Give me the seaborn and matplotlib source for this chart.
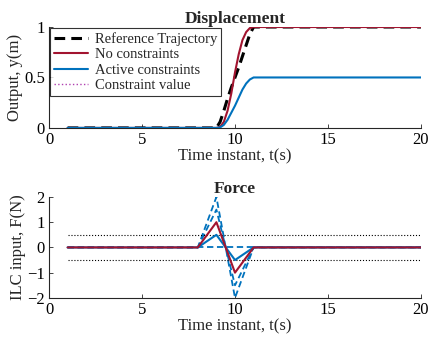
import numpy as np
import pandas as pd
import matplotlib
matplotlib.use("Agg")
import matplotlib.pyplot as plt
import seaborn as sns

# Displacement (output) curves
t_disp = [1, 9, 9.2, 9.4, 9.6, 9.8, 10, 10.2, 10.4, 10.6, 10.8, 11, 20]
y_ref = [0, 0, 0.06, 0.17, 0.29, 0.40, 0.50, 0.60, 0.71, 0.82, 0.93, 1.0, 1.0]
y_free = [0, 0, 0.01, 0.06, 0.17, 0.34, 0.55, 0.73, 0.87, 0.95, 0.99, 1.0, 1.0]
y_con = [0, 0, 0.005, 0.03, 0.08, 0.15, 0.22, 0.30, 0.38, 0.44, 0.48, 0.50, 0.50]

# Force (ILC input) per time instant
t_force = list(range(1, 21))
u_free = [0] * 8 + [1, -1] + [0] * 10
u_con = [0] * 8 + [0.5, -0.5] + [0] * 10
u_iters = [
    [0] * 20,
    [0] * 8 + [1.5, -1.5] + [0] * 10,
    [0] * 8 + [2.0, -2.0] + [0] * 10,
]
limit = 0.5

red = "#A2142F"
blue = "#0072BD"

sns.set_style("ticks")
plt.rcParams["font.family"] = ["Liberation Serif", "DejaVu Serif"]
plt.rcParams["font.size"] = 12
plt.rcParams["xtick.direction"] = "in"
plt.rcParams["ytick.direction"] = "in"

fig = plt.figure(figsize=(4.3, 3.42), dpi=100)
ax1 = fig.add_axes([0.114, 0.626, 0.865, 0.295])
ax2 = fig.add_axes([0.114, 0.129, 0.865, 0.295])

# --- Displacement ---
sns.lineplot(x=t_disp, y=y_ref, ax=ax1, color="black", lw=2.2,
             linestyle=(0, (3.5, 2)), label="Reference Trajectory", zorder=2)
sns.lineplot(x=t_disp, y=y_free, ax=ax1, color=red, lw=1.5,
             label="No constraints", zorder=3)
sns.lineplot(x=t_disp, y=y_con, ax=ax1, color=blue, lw=1.5,
             label="Active constraints", zorder=3)
ax1.plot([], [], color="#b040b0", lw=1.0, linestyle=":", label="Constraint value")
ax1.set_xlim(0, 20)
ax1.set_ylim(0, 1)
ax1.set_xticks([0, 5, 10, 15, 20])
ax1.set_yticks([0, 0.5, 1])
ax1.set_yticklabels(["0", "0.5", "1"])
ax1.set_title("Displacement", fontweight="bold", fontsize=12.5, pad=2)
ax1.set_xlabel("Time instant, t(s)", labelpad=0)
ax1.set_ylabel("Output, y(m)", labelpad=1)
leg = ax1.legend(loc="upper left", frameon=True, fancybox=False, fontsize=10.5,
                 handlelength=2.3, borderpad=0.25, labelspacing=0.15,
                 handletextpad=0.5, borderaxespad=0.1)
leg.get_frame().set_edgecolor("black")
leg.get_frame().set_linewidth(0.8)

# --- Force ---
for u in u_iters:
    sns.lineplot(x=t_force, y=u, ax=ax2, color=blue, lw=1.3,
                 linestyle=(0, (3.5, 2)), zorder=2)
sns.lineplot(x=t_force, y=u_con, ax=ax2, color=blue, lw=1.5, zorder=3)
sns.lineplot(x=t_force, y=u_free, ax=ax2, color=red, lw=1.5, zorder=4)
ax2.plot([1, 20], [limit, limit], color="black", lw=0.8, linestyle=":")
ax2.plot([1, 20], [-limit, -limit], color="black", lw=0.8, linestyle=":")
ax2.set_xlim(0, 20)
ax2.set_ylim(-2, 2)
ax2.set_xticks([0, 5, 10, 15, 20])
ax2.set_yticks([-2, -1, 0, 1, 2])
ax2.set_title("Force", fontweight="bold", fontsize=12.5, pad=2)
ax2.set_xlabel("Time instant, t(s)", labelpad=0)
ax2.set_ylabel("ILC input, F(N)", labelpad=1)

for ax in (ax1, ax2):
    sns.despine(ax=ax)
    for s in ("left", "bottom"):
        ax.spines[s].set_color("#262626")
        ax.spines[s].set_linewidth(0.8)
    ax.tick_params(length=3, width=0.6, colors="#262626", labelcolor="black", pad=3)

fig.savefig("out.png", dpi=100)
